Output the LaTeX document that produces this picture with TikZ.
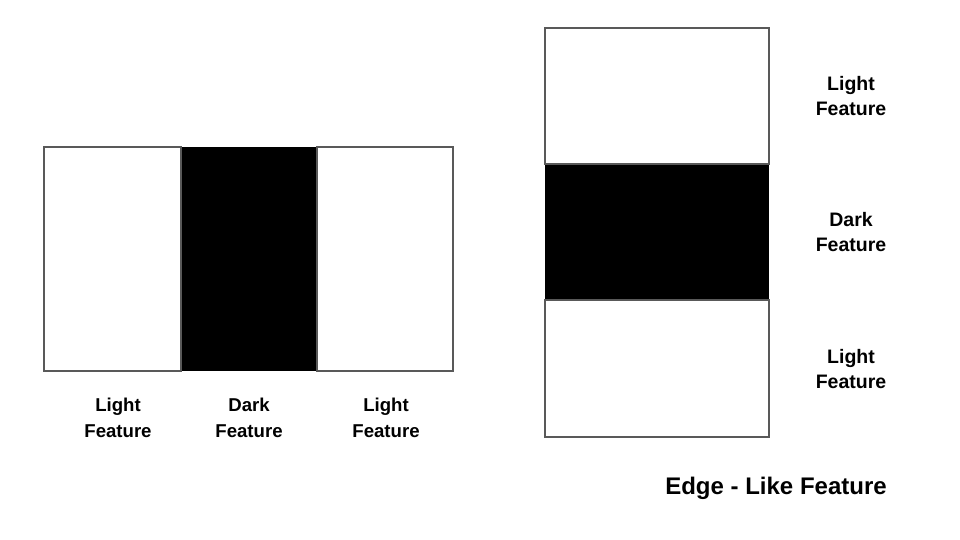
\documentclass[tikz,border=0pt]{standalone}
\usepackage{fontspec}
\setmainfont{Liberation Sans}
\definecolor{edgegray}{HTML}{595959}
\tikzset{
  lightbox/.style={draw=edgegray, line width=2.5pt, fill=white},
  darkbox/.style={fill=black},
  lbl/.style={font=\bfseries\fontsize{18.6}{26}\selectfont, align=center, inner sep=0pt},
  rlbl/.style={font=\bfseries\fontsize{19.5}{25.5}\selectfont, align=center, inner sep=0pt},
  title/.style={font=\bfseries\fontsize{24}{28}\selectfont, inner sep=0pt}
}
\begin{document}
\begin{tikzpicture}[x=1pt,y=-1pt]
\useasboundingbox[fill=white] (0,0) rectangle (960,540);
% left group
\path[darkbox] (181,147) rectangle (317,371);
\draw[lightbox] (44,147) rectangle (181,371);
\draw[lightbox] (317,147) rectangle (453,371);
% right group
\path[darkbox] (545,164) rectangle (769,300);
\draw[lightbox] (545,28) rectangle (769,164);
\draw[lightbox] (545,300) rectangle (769,437);
% labels
\node[lbl] (l1) at (118,418) {Light\\Feature};
\node[lbl] (l2) at (249,418) {Dark\\Feature};
\node[lbl] (l3) at (386,418) {Light\\Feature};
\node[rlbl] (r1) at (851,96) {Light\\Feature};
\node[rlbl] (r2) at (851,232) {Dark\\Feature};
\node[rlbl] (r3) at (851,369) {Light\\Feature};
\node[title] (t) at (776,488) {Edge - Like Feature};
\end{tikzpicture}
\end{document}
